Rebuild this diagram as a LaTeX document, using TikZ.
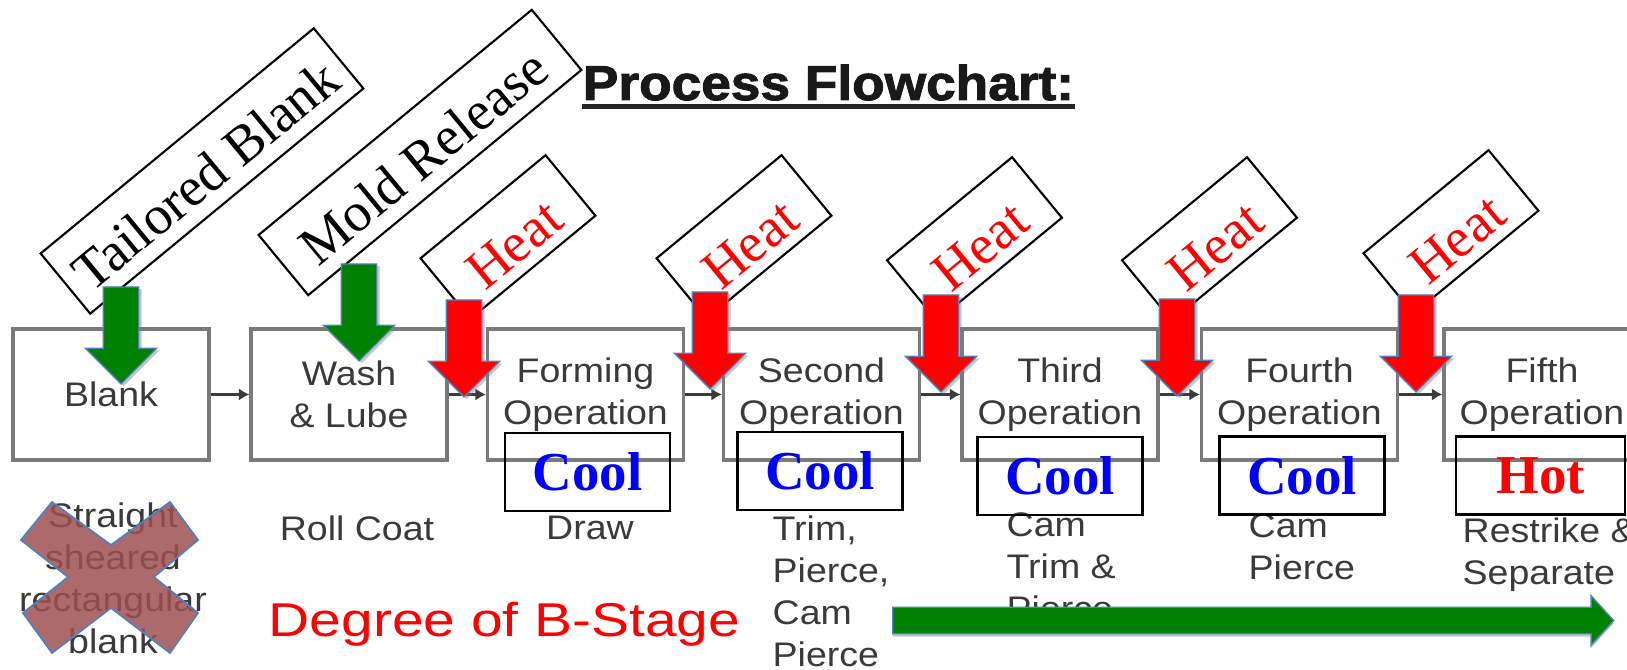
\documentclass[tikz,border=0pt]{standalone}
\usepackage{fontspec}
\setmainfont{Liberation Serif}
\newfontfamily\flowfont[FakeStretch=1.1]{Liberation Sans}
\newfontfamily\headfont[FakeStretch=1.09,FakeBold=2]{Liberation Sans Bold}
\newfontfamily\stagefont[FakeStretch=1.2]{Liberation Sans}
\usetikzlibrary{arrows.meta, shapes.arrows, shadows}
\definecolor{boxgray}{HTML}{7A7A7A}
\definecolor{txtgray}{HTML}{3A3A3A}
\definecolor{pptblue}{HTML}{4F81BD}
\definecolor{arrowgreen}{HTML}{008000}
\definecolor{xred}{RGB}{158,80,80}

\begin{document}
\begin{tikzpicture}[>={Latex[length=3pt,width=3.5pt]},
  opbox/.style={draw=boxgray, line width=0.9pt, minimum width=1.96cm, minimum height=1.31cm,
    align=center, text=txtgray, font=\flowfont\fontsize{9.7}{12}\selectfont},
  subnote/.style={text=txtgray, inner sep=0pt, align=left, font=\flowfont\fontsize{9.7}{12}\selectfont},
  tiltbox/.style={draw, line width=0.6pt, rotate=39.5, minimum height=0.78cm,
    text height=0.48cm, text depth=0pt, font=\fontsize{15.6}{18}\selectfont},
  heatbox/.style={tiltbox, minimum width=1.62cm, text=red, text height=0.55cm,
    font=\fontsize{15.8}{18}\selectfont},
  tempbox/.style={draw, line width=0.8pt, minimum width=1.65cm, minimum height=0.78cm,
    font=\bfseries\fontsize{15.6}{18}\selectfont},
  blockarrow/.style={single arrow, draw=pptblue, line width=0.4pt, rotate=-90, anchor=tip,
    minimum height=0.97cm, inner xsep=0pt, inner ysep=0.17cm, single arrow head extend=0.18cm,
    drop shadow={shadow xshift=0.8pt, shadow yshift=-0.6pt, opacity=0.45}},
  conn/.style={->, draw=txtgray, line width=0.6pt}]
\useasboundingbox (0,0) rectangle (16.27,6.70);

% heading
\node[inner sep=0pt, anchor=base, text=black!90, font=\headfont\fontsize{13.9}{16}\selectfont]
  (title) at (8.285,5.70) {Process Flowchart:};
\draw[line width=1.4pt, black!85] ([yshift=-0.065cm]title.base west) -- ([yshift=-0.065cm]title.base east);

% process steps
\node[opbox] (blank)  at (1.11,2.755)   {Blank};
\node[opbox] (wash)   at (3.49,2.755)   {Wash\\\& Lube};
\node[opbox] (form)   at (5.855,2.755)  {Forming\\Operation};
\node[opbox] (second) at (8.215,2.755)  {Second\\Operation};
\node[opbox] (third)  at (10.60,2.755)  {Third\\Operation};
\node[opbox] (fourth) at (12.995,2.755) {Fourth\\Operation};
\node[opbox] (fifth)  at (15.42,2.755)  {Fifth\\Operation};
\draw[conn] (blank) -- (wash);
\draw[conn] (wash) -- (form);
\draw[conn] (form) -- (second);
\draw[conn] (second) -- (third);
\draw[conn] (third) -- (fourth);
\draw[conn] (fourth) -- (fifth);

% what happens in each step
\node[subnote, anchor=north, align=center] (blanknote) at (1.13,1.68) {Straight\\sheared\\rectangular\\blank};
\node[subnote, anchor=north] (washnote) at (3.57,1.55) {Roll Coat};
\node[subnote, anchor=north] (formnote) at (5.90,1.55) {Draw};
\node[subnote, anchor=north west] (secondnote) at (7.72,1.55) {Trim,\\Pierce,\\Cam\\Pierce};
\node[subnote, anchor=north west] (thirdnote) at (10.06,1.58) {Cam\\Trim \&\\Pierce};
\node[subnote, anchor=north west] (fourthnote) at (12.48,1.57) {Cam\\Pierce};
\node[subnote, anchor=north west] (fifthnote) at (14.62,1.53) {Restrike \&\\Separate};

% die temperature
\node[tempbox, text=blue] (cool1) at (5.875,1.98) {Cool};
\node[tempbox, text=blue] (cool2) at (8.20,1.99)  {Cool};
\node[tempbox, text=blue] (cool3) at (10.60,1.94) {Cool};
\node[tempbox, text=blue] (cool4) at (13.02,1.945) {Cool};
\node[tempbox, text=red, minimum width=1.69cm] (hot) at (15.405,1.945) {Hot};

% crossed out old blank
\draw[draw=pptblue, line width=0.5pt, fill=xred, fill opacity=0.85]
  (0.52,1.68) -- (1.11,1.25) -- (1.70,1.68) -- (1.98,1.30) -- (1.54,0.93) -- (1.98,0.57)
  -- (1.70,0.17) -- (1.11,0.62) -- (0.52,0.17) -- (0.23,0.57) -- (0.68,0.93) -- (0.21,1.30) -- cycle;

% B-stage trend
\node[anchor=base west, inner sep=0pt, text=red, font=\stagefont\fontsize{13.5}{16}\selectfont]
  (stage) at (2.68,0.33) {Degree of B-Stage};
\node[single arrow, fill=arrowgreen, draw=pptblue, line width=0.4pt, minimum height=7.21cm,
  inner xsep=0pt, inner ysep=0.125cm, single arrow head extend=0.115cm, single arrow tip angle=95,
  anchor=tail, drop shadow={shadow xshift=0pt, shadow yshift=-0.8pt, opacity=0.45}]
  (trend) at (8.92,0.495) {};

% inputs
\node[tiltbox, minimum width=3.54cm] (tailored) at (2.02,4.99) {Tailored Blank};
\node[tiltbox, minimum width=3.54cm] (mold) at (4.20,5.175) {Mold Release};
\node[heatbox] (heat1) at (5.08,4.33)   {Heat};
\node[heatbox] (heat2) at (7.44,4.33)   {Heat};
\node[heatbox] (heat3) at (9.745,4.31)  {Heat};
\node[heatbox] (heat4) at (12.095,4.31) {Heat};
\node[heatbox] (heat5) at (14.51,4.38)  {Heat};

\node[blockarrow, fill=arrowgreen] (tb)  at (1.21,2.85) {};
\node[blockarrow, fill=arrowgreen] (mr)  at (3.59,3.08) {};
\node[blockarrow, fill=red] (h1) at (4.64,2.72) {};
\node[blockarrow, fill=red] (h2) at (7.10,2.80) {};
\node[blockarrow, fill=red] (h3) at (9.41,2.77) {};
\node[blockarrow, fill=red] (h4) at (11.77,2.73) {};
\node[blockarrow, fill=red] (h5) at (14.16,2.77) {};
\end{tikzpicture}
\end{document}
